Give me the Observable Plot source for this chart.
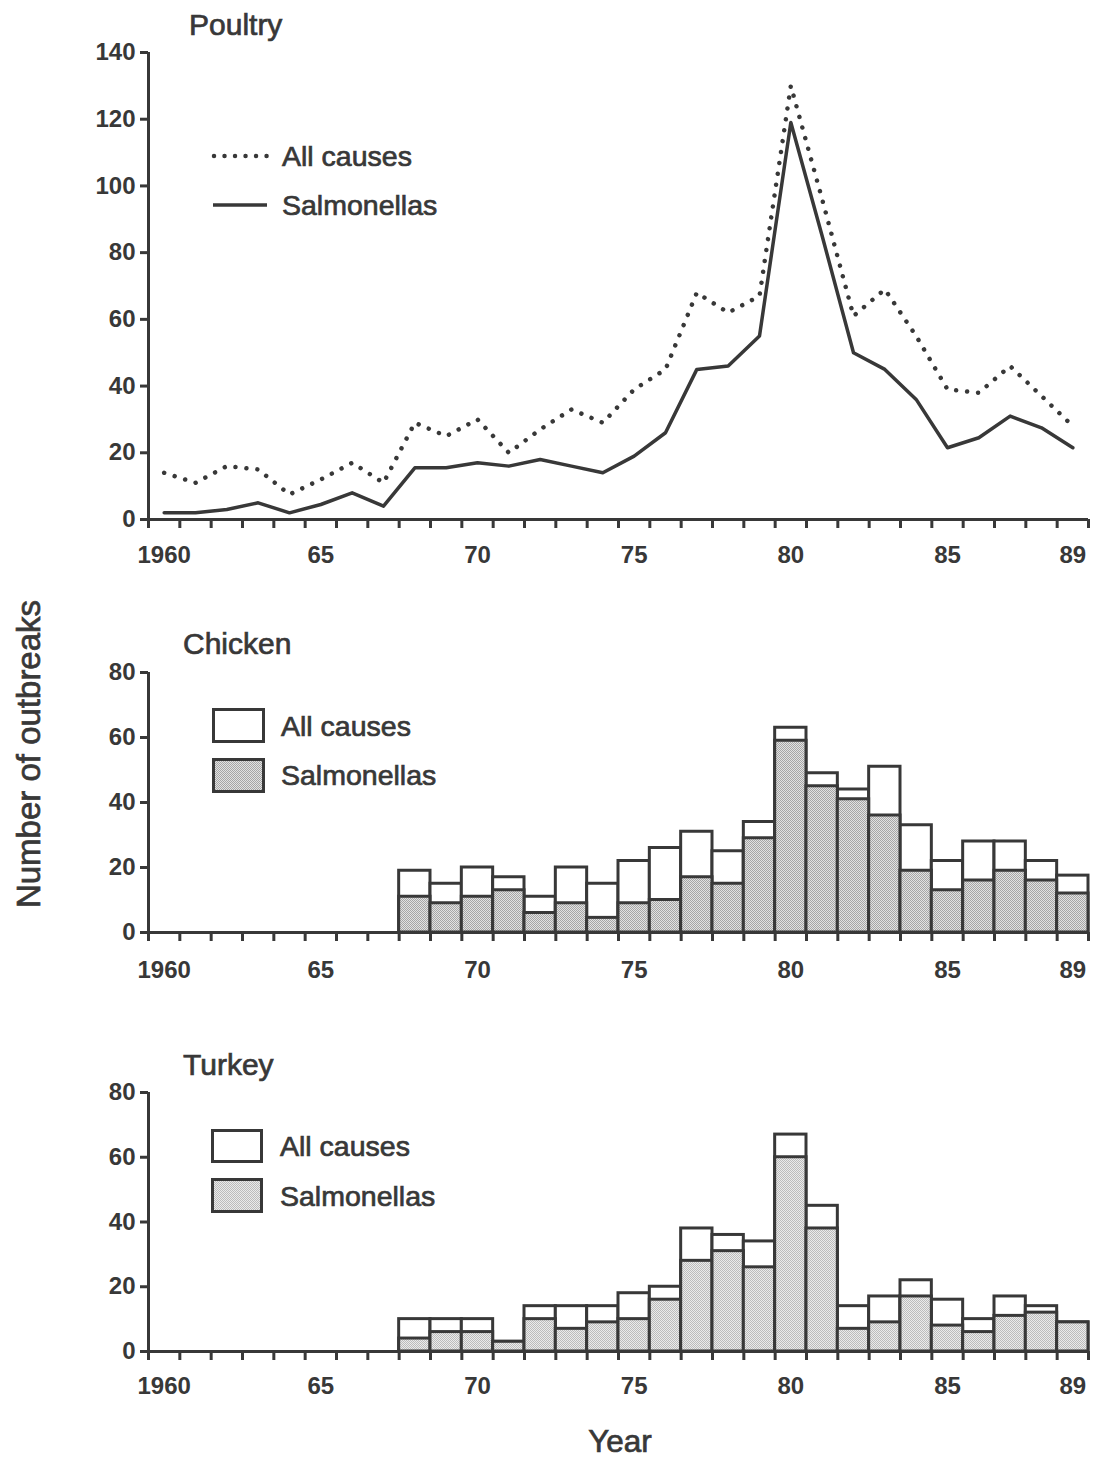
<!DOCTYPE html>
<html>
<head>
<meta charset="utf-8">
<script src="https://cdn.jsdelivr.net/npm/d3@7"></script>
<script src="https://cdn.jsdelivr.net/npm/@observablehq/plot@0.6"></script>
<style>
  html, body { margin: 0; padding: 0; background: #fff; }
  #page { position: relative; width: 1096px; height: 1459px; background: #fff; overflow: hidden; }
  #page > .chart { position: absolute; left: 0; }
  #page svg { display: block; }
  #overlay { position: absolute; left: 0; top: 0; z-index: 2; pointer-events: none; }
</style>
</head>
<body>
<div id="page"></div>
<script>
// ---------------- data ----------------
const years = [1960,1961,1962,1963,1964,1965,1966,1967,1968,1969,1970,1971,1972,1973,1974,
               1975,1976,1977,1978,1979,1980,1981,1982,1983,1984,1985,1986,1987,1988,1989];
const poultryAll  = [14, 11, 16, 15, 7.5, 12, 17, 11, 29, 25, 30, 20, 27, 33, 29,
                     39, 45, 68, 62, 67, 130, 96, 61, 69, 55, 39, 38, 46, 37, 28];
const poultrySalm = [2, 2, 3, 5, 2, 4.5, 8, 4, 15.5, 15.5, 17, 16, 18, 16, 14,
                     19, 26, 45, 46, 55, 119, 85, 50, 45, 36, 21.5, 24.5, 31, 27.5, 21.5];

const barYears = [1968,1969,1970,1971,1972,1973,1974,1975,1976,1977,1978,
                  1979,1980,1981,1982,1983,1984,1985,1986,1987,1988,1989];
const chickenAll  = [19, 15, 20, 17, 11, 20, 15, 22, 26, 31, 25, 34, 63, 49, 44, 51, 33, 22, 28, 28, 22, 17.5];
const chickenSalm = [11, 9, 11, 13, 6, 9, 4.5, 9, 10, 17, 15, 29, 59, 45, 41, 36, 19, 13, 16, 19, 16, 12];
const turkeyAll   = [10, 10, 10, 3, 14, 14, 14, 18, 20, 38, 36, 34, 67, 45, 14, 17, 22, 16, 10, 17, 14, 9];
const turkeySalm  = [4, 6, 6, 3, 10, 7, 9, 10, 16, 28, 31, 26, 60, 38, 7, 9, 17, 8, 6, 11, 12, 9];

const xLabelYears = [1960, 1965, 1970, 1975, 1980, 1985, 1989];
const xLabelText  = ["1960", "65", "70", "75", "80", "85", "89"];
const poultryYTicks = [0, 20, 40, 60, 80, 100, 120, 140];
const barYTicks = [0, 20, 40, 60, 80];

// ---------------- style ----------------
const ink = "#383838";
const font = "'Liberation Sans', Arial, Helvetica, sans-serif";
const xDomain = [1959.5, 1989.5];
const boundaries = d3.range(1959.5, 1990, 1);

const poultry = years.map((y, i) => ({year: y, all: poultryAll[i], salm: poultrySalm[i]}));
const chicken = barYears.map((y, i) => ({year: y, all: chickenAll[i], salm: chickenSalm[i]}));
const turkey  = barYears.map((y, i) => ({year: y, all: turkeyAll[i], salm: turkeySalm[i]}));

function frameMarks(yTicks, labelPad) {
  return [
    Plot.axisY({ticks: yTicks, tickSize: 8, tickPadding: 5, strokeWidth: 3, label: null,
                fontSize: 24, fontWeight: "bold"}),
    Plot.axisX({ticks: boundaries, tickSize: 9, strokeWidth: 3, tickFormat: () => "", label: null}),
    Plot.axisX({ticks: xLabelYears, tickSize: 0, tickPadding: labelPad, label: null,
                tickFormat: d => xLabelText[xLabelYears.indexOf(d)], fontSize: 24, fontWeight: "bold"}),
    Plot.ruleX([xDomain[0]], {stroke: ink, strokeWidth: 3}),
    Plot.ruleY([0], {stroke: ink, strokeWidth: 3})
  ];
}

const baseStyle = {fontFamily: font, color: ink, background: "transparent", overflow: "visible"};

const poultryPlot = Plot.plot({
  width: 1096, height: 570,
  marginLeft: 148, marginRight: 8, marginTop: 52, marginBottom: 51,
  x: {domain: xDomain}, y: {domain: [0, 140]},
  style: baseStyle,
  marks: [
    Plot.line(poultry, {x: "year", y: "all", stroke: ink, strokeWidth: 4.5,
                        strokeDasharray: "0.01 11", strokeLinecap: "round", strokeLinejoin: "round"}),
    Plot.line(poultry, {x: "year", y: "salm", stroke: ink, strokeWidth: 3.5, strokeLinejoin: "round"}),
    ...frameMarks(poultryYTicks, 26)
  ]
});

function barPlot(data, pattern, labelPad, mb) {
  return Plot.plot({
    width: 1096, height: 360,
    marginLeft: 148, marginRight: 8, marginTop: 52, marginBottom: mb,
    x: {domain: xDomain}, y: {domain: [0, 80]},
    style: baseStyle,
    marks: [
      Plot.rect(data, {x1: d => d.year - 0.5, x2: d => d.year + 0.5, y1: 0, y2: "all",
                       fill: "white", stroke: ink, strokeWidth: 3}),
      Plot.rect(data, {x1: d => d.year - 0.5, x2: d => d.year + 0.5, y1: 0, y2: "salm",
                       fill: `url(#${pattern})`, stroke: ink, strokeWidth: 3}),
      ...frameMarks(barYTicks, labelPad)
    ]
  });
}

const chickenPlot = barPlot(chicken, "stipC", 28, 48);
const turkeyPlot  = barPlot(turkey, "stipT", 25, 49);

const page = document.getElementById("page");
function place(el, top) {
  const wrap = document.createElement("div");
  wrap.className = "chart";
  wrap.style.top = top + "px";
  wrap.appendChild(el);
  page.appendChild(wrap);
}
place(poultryPlot, 0);
place(chickenPlot, 620);
place(turkeyPlot, 1040);

// ---------------- titles, legends, axis titles ----------------
const ns = "http://www.w3.org/2000/svg";
const overlay = document.createElementNS(ns, "svg");
overlay.setAttribute("id", "overlay");
overlay.setAttribute("width", 1096);
overlay.setAttribute("height", 1459);
overlay.innerHTML = `
<defs>
  <pattern id="stipC" width="2" height="2" patternUnits="userSpaceOnUse">
    <rect width="2" height="2" fill="#e2e2e2"/>
    <rect width="1" height="1" fill="#a6a6a6"/>
    <rect x="1" y="1" width="1" height="1" fill="#a6a6a6"/>
  </pattern>
  <pattern id="stipT" width="2" height="2" patternUnits="userSpaceOnUse">
    <rect width="2" height="2" fill="#ebebeb"/>
    <rect width="1" height="1" fill="#bcbcbc"/>
    <rect x="1" y="1" width="1" height="1" fill="#bcbcbc"/>
  </pattern>
</defs>
<g font-family="${font}" fill="${ink}">
  <g stroke="${ink}" stroke-width="0.7">
    <text x="189" y="35" font-size="30">Poultry</text>
    <text x="282" y="166" font-size="28.5">All causes</text>
    <text x="282" y="215" font-size="28.5">Salmonellas</text>
    <text x="183" y="654" font-size="30">Chicken</text>
    <text x="281" y="736" font-size="28.5">All causes</text>
    <text x="281" y="785" font-size="28.5">Salmonellas</text>
    <text x="183" y="1075" font-size="30">Turkey</text>
    <text x="280" y="1156" font-size="28.5">All causes</text>
    <text x="280" y="1206" font-size="28.5">Salmonellas</text>
    <text transform="translate(40,754) rotate(-90)" text-anchor="middle" font-size="33">Number of outbreaks</text>
    <text x="620" y="1452" text-anchor="middle" font-size="31.5">Year</text>
  </g>
  <line x1="214" x2="267" y1="156" y2="156" stroke="${ink}" stroke-width="4.5" stroke-dasharray="0.01 10.5" stroke-linecap="round"/>
  <line x1="213" x2="267" y1="205" y2="205" stroke="${ink}" stroke-width="3.5"/>
  <rect x="213.5" y="709.5" width="50" height="32" fill="white" stroke="${ink}" stroke-width="3"/>
  <rect x="213.5" y="759.5" width="50" height="32" fill="url(#stipC)" stroke="${ink}" stroke-width="3"/>
  <rect x="212.5" y="1130.5" width="49" height="31" fill="white" stroke="${ink}" stroke-width="3"/>
  <rect x="212.5" y="1179.5" width="49" height="32" fill="url(#stipT)" stroke="${ink}" stroke-width="3"/>
</g>`;
page.appendChild(overlay);
</script>
</body>
</html>
